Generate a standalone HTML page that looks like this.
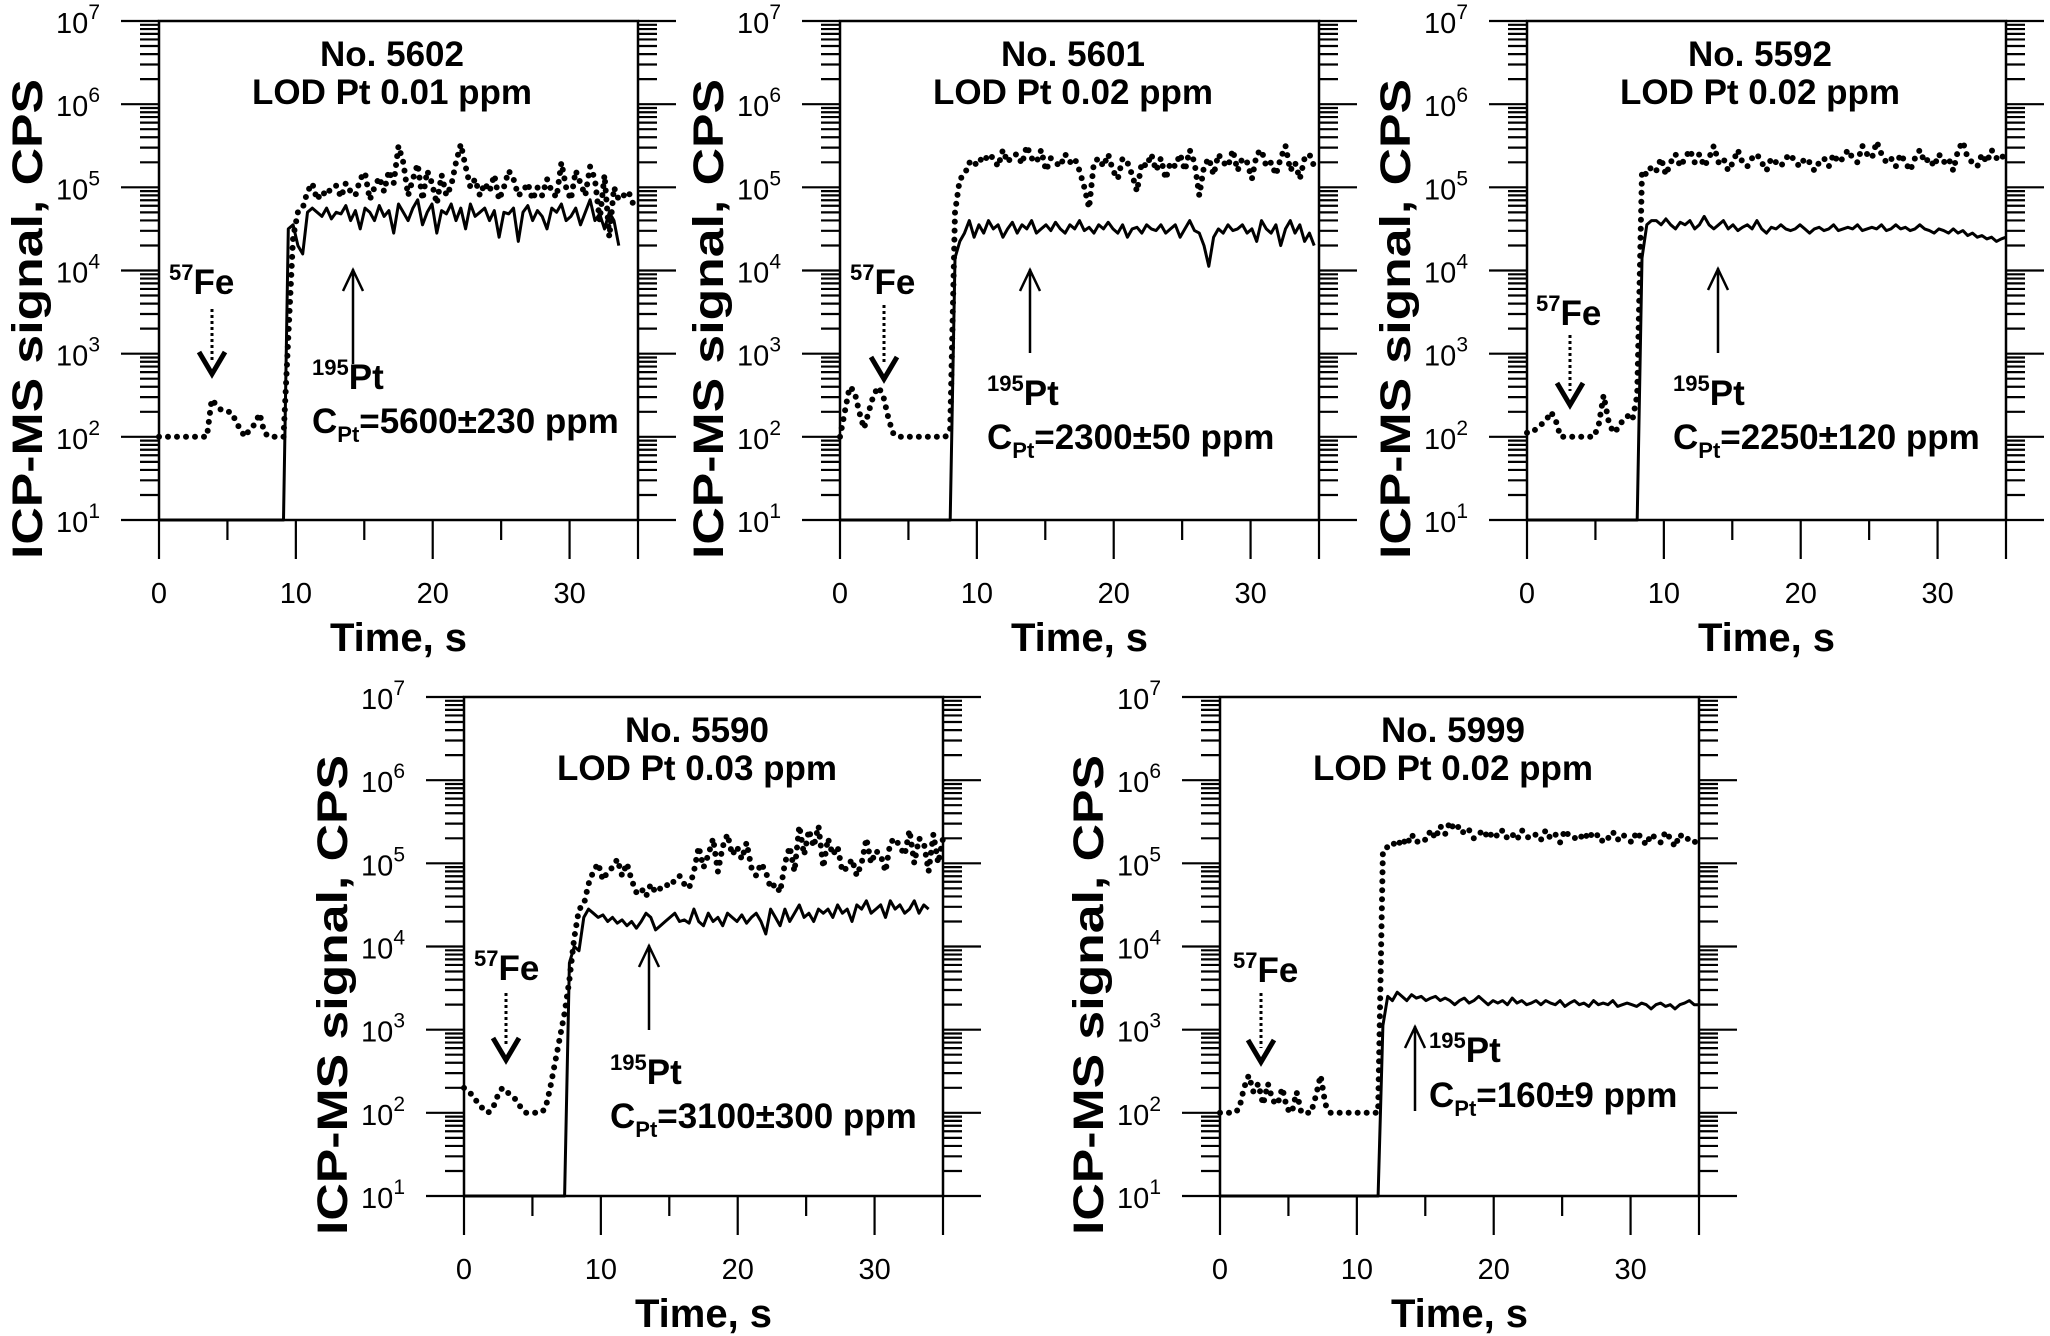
<!DOCTYPE html>
<html><head><meta charset="utf-8"><title>ICP-MS signal panels</title>
<style>
html,body{margin:0;padding:0;background:#fff;}
svg{display:block;font-family:"Liberation Sans",Arial,sans-serif;}
</style></head>
<body>
<svg id="chart" width="2050" height="1336" viewBox="0 0 2050 1336" xmlns="http://www.w3.org/2000/svg"></svg>
<script>
// ---- data ----
const xTickLabels = ["0","10","20","30"];
const xTickValues = [0,10,20,30];
const yTickExponents = [1,2,3,4,5,6,7];
const sampleStep = 0.35; // seconds between samples
const panelTitles = ["No. 5602","No. 5601","No. 5592","No. 5590","No. 5999"];
const panelLods = ["LOD Pt 0.01 ppm","LOD Pt 0.02 ppm","LOD Pt 0.02 ppm","LOD Pt 0.03 ppm","LOD Pt 0.02 ppm"];
const panelConc = ["=5600\u00B1230 ppm","=2300\u00B150 ppm","=2250\u00B1120 ppm","=3100\u00B1300 ppm","=160\u00B19 ppm"];
// log10(CPS) values, sampled every sampleStep seconds from t=0
const fe5602 = [2,2,2,2,2,2,2,2,2,2,2.0,2.45,2.38,2.32,2.3,2.3,2.2,2.08,2.0,2.1,2.15,2.28,2.05,2.0,2.0,2.0,2.0,3.2,4.4,4.7,4.75,4.95,5.05,4.85,
4.95,4.9,5.0,5.02,4.88,5.05,4.95,4.9,5.1,5.18,4.85,5.0,5.12,4.95,5.2,5.05,5.5,5.3,4.9,5.1,5.28,4.85,5.2,5.05,4.8,5.15,4.9,5.02,5.3,5.52,5.25,5.0,5.1,4.9,5.05,4.95,5.15,4.85,5.0,5.2,5.1,4.9,4.95,5.05,4.85,5.0,4.9,5.1,4.95,4.88,5.3,5.0,4.85,5.2,5.05,4.9,5.25,5.1,4.6,5.15,4.4,5.0,4.85,4.9,4.95,4.8];
const pt5602 = [1,1,1,1,1,1,1,1,1,1,1,1,1,1,1,1,1,1,1,1,1,1,1,1,1,1,1,4.5,4.55,4.3,4.2,4.7,4.75,
4.7,4.65,4.75,4.62,4.7,4.68,4.78,4.6,4.72,4.5,4.75,4.7,4.6,4.78,4.65,4.72,4.45,4.8,4.7,4.6,4.75,4.85,4.55,4.7,4.8,4.45,4.72,4.68,4.8,4.6,4.75,4.5,4.8,4.65,4.7,4.75,4.6,4.72,4.4,4.7,4.68,4.75,4.35,4.7,4.78,4.6,4.72,4.65,4.5,4.75,4.7,4.8,4.6,4.65,4.75,4.55,4.7,4.85,4.6,4.68,4.5,4.7,4.6,4.3];
const fe5601 = [2.0,2.3,2.6,2.55,2.3,2.1,2.3,2.5,2.6,2.5,2.25,2.05,2,2,2,2,2,2,2,2,2,2,2,2.1,4.7,5.1,5.15,5.3,5.25,
5.35,5.3,5.4,5.35,5.25,5.45,5.3,5.38,5.4,5.28,5.5,5.35,5.3,5.45,5.2,5.35,5.3,5.25,5.4,5.3,5.35,5.2,5.0,4.75,5.3,5.35,5.25,5.4,5.2,5.1,5.35,5.3,5.15,4.95,5.3,5.25,5.4,5.2,5.35,5.1,5.3,5.25,5.4,5.2,5.45,5.3,4.9,5.25,5.35,5.15,5.4,5.3,5.25,5.45,5.2,5.35,5.3,5.1,5.4,5.45,5.25,5.3,5.15,5.35,5.5,5.2,5.3,5.1,5.35,5.4,5.25];
const pt5601 = [1,1,1,1,1,1,1,1,1,1,1,1,1,1,1,1,1,1,1,1,1,1,1,1,4.15,4.35,4.45,4.6,4.4,
4.55,4.45,4.6,4.5,4.55,4.4,4.5,4.58,4.45,4.55,4.5,4.6,4.45,4.5,4.55,4.48,4.58,4.5,4.45,4.55,4.5,4.6,4.48,4.52,4.45,4.55,4.5,4.58,4.5,4.45,4.55,4.4,4.5,4.52,4.45,4.55,4.5,4.48,4.55,4.45,4.5,4.55,4.4,4.5,4.6,4.48,4.45,4.3,4.05,4.4,4.5,4.45,4.55,4.48,4.5,4.55,4.45,4.5,4.35,4.6,4.5,4.45,4.55,4.3,4.5,4.6,4.45,4.55,4.35,4.45,4.3];
const fe5592 = [2.05,2.05,2.1,2.15,2.2,2.3,2.2,2.0,2,2,2,2,2,2,2,2.15,2.5,2.2,2.05,2.1,2.2,2.25,2.2,2.5,5.2,5.15,5.25,
5.2,5.35,5.15,5.3,5.4,5.25,5.35,5.45,5.3,5.4,5.25,5.35,5.5,5.3,5.35,5.2,5.3,5.45,5.3,5.25,5.35,5.4,5.3,5.2,5.35,5.3,5.25,5.35,5.4,5.3,5.25,5.35,5.3,5.2,5.3,5.35,5.25,5.4,5.3,5.35,5.45,5.35,5.3,5.5,5.4,5.35,5.55,5.4,5.3,5.35,5.25,5.4,5.3,5.2,5.35,5.45,5.3,5.35,5.25,5.4,5.3,5.35,5.2,5.45,5.55,5.35,5.3,5.25,5.4,5.3,5.45,5.35,5.4,5.3];
const pt5592 = [1,1,1,1,1,1,1,1,1,1,1,1,1,1,1,1,1,1,1,1,1,1,1,1,4.15,4.55,4.6,
4.6,4.55,4.62,4.55,4.5,4.58,4.55,4.6,4.5,4.55,4.65,4.55,4.5,4.55,4.6,4.5,4.55,4.48,4.52,4.55,4.5,4.6,4.5,4.45,4.52,4.5,4.55,4.5,4.48,4.5,4.55,4.5,4.45,4.5,4.52,4.48,4.5,4.55,4.48,4.5,4.52,4.5,4.55,4.48,4.5,4.52,4.5,4.55,4.48,4.5,4.55,4.5,4.52,4.48,4.5,4.55,4.5,4.48,4.45,4.5,4.48,4.45,4.5,4.45,4.48,4.42,4.45,4.4,4.42,4.38,4.4,4.35,4.38,4.4];
const fe5590 = [2.3,2.25,2.2,2.1,2.05,2.0,2.05,2.2,2.3,2.25,2.2,2.15,2.05,2.0,2.0,2.0,2.0,2.05,2.3,2.6,2.9,3.2,3.6,4.1,4.45,4.5,4.75,4.9,
5.0,4.8,4.9,4.95,5.05,4.85,5.0,4.8,4.65,4.7,4.6,4.75,4.65,4.7,4.75,4.72,4.8,4.85,4.75,4.7,4.9,5.2,4.95,5.1,5.3,4.9,5.2,5.35,5.1,5.2,5.05,5.25,4.95,4.85,5.0,4.9,4.7,4.75,4.65,5.0,5.2,4.9,5.45,5.1,5.4,5.2,5.45,4.95,5.3,5.1,5.2,4.9,4.95,5.05,4.85,5.0,5.3,5.0,5.15,5.1,4.9,5.25,5.3,5.2,5.1,5.4,5.0,5.3,5.25,4.9,5.35,5.0,5.3];
const pt5590 = [1,1,1,1,1,1,1,1,1,1,1,1,1,1,1,1,1,1,1,1,1,1,3.8,4.0,3.95,4.35,4.45,
4.4,4.35,4.38,4.3,4.35,4.28,4.32,4.25,4.3,4.22,4.3,4.4,4.35,4.2,4.25,4.3,4.35,4.4,4.3,4.32,4.28,4.45,4.3,4.25,4.4,4.3,4.35,4.25,4.4,4.35,4.3,4.38,4.28,4.35,4.4,4.3,4.15,4.45,4.35,4.25,4.45,4.3,4.4,4.5,4.35,4.4,4.3,4.45,4.4,4.45,4.35,4.5,4.4,4.45,4.3,4.5,4.45,4.55,4.4,4.45,4.5,4.35,4.55,4.45,4.5,4.4,4.45,4.55,4.4,4.5,4.45];
const fe5999 = [2,2,2,2,2.05,2.3,2.45,2.25,2.35,2.1,2.35,2.15,2.1,2.3,2.05,2.0,2.25,2.0,2.0,2.0,2.2,2.45,2.1,2,2,2,2,2,2,2,2,2,2,2,5.15,5.2,
5.25,5.2,5.3,5.22,5.35,5.25,5.3,5.28,5.4,5.3,5.45,5.35,5.5,5.4,5.45,5.35,5.4,5.3,5.35,5.4,5.3,5.38,5.32,5.4,5.3,5.35,5.28,5.4,5.32,5.3,5.35,5.28,5.4,5.3,5.35,5.25,5.4,5.32,5.3,5.35,5.28,5.38,5.3,5.35,5.25,5.3,5.38,5.28,5.35,5.3,5.25,5.38,5.3,5.22,5.35,5.3,5.25,5.38,5.3,5.2,5.35,5.28,5.3,5.25,5.3];
const pt5999 = [1,1,1,1,1,1,1,1,1,1,1,1,1,1,1,1,1,1,1,1,1,1,1,1,1,1,1,1,1,1,1,1,1,1,3.05,3.4,3.35,3.45,
3.4,3.35,3.42,3.38,3.4,3.35,3.38,3.4,3.35,3.38,3.35,3.3,3.35,3.38,3.32,3.35,3.4,3.35,3.3,3.35,3.32,3.35,3.3,3.38,3.32,3.35,3.3,3.32,3.35,3.3,3.35,3.32,3.3,3.35,3.28,3.32,3.35,3.3,3.32,3.28,3.35,3.3,3.32,3.3,3.35,3.28,3.3,3.32,3.3,3.28,3.32,3.3,3.25,3.3,3.32,3.28,3.3,3.25,3.3,3.32,3.35,3.3,3.3];
const feSeries = [fe5602, fe5601, fe5592, fe5590, fe5999];
const ptSeries = [pt5602, pt5601, pt5592, pt5590, pt5999];

// ---- layout (pixels, not data) ----
const W = 479, H = 499, XMAX = 35, YMIN = 1, YMAX = 7;
const layout = [
  {L:159, T:21, feLab:[169,294], feArr:[212,309,374], ptArr:[353,364,269], ptLab:[312,389], cLab:[312,433]},
  {L:840, T:21, feLab:[850,294], feArr:[884,305,379], ptArr:[1030,353,269], ptLab:[987,405], cLab:[987,449]},
  {L:1527,T:21, feLab:[1536,325], feArr:[1570,335,405], ptArr:[1718,353,268], ptLab:[1673,405], cLab:[1673,449]},
  {L:464, T:697, feLab:[474,980], feArr:[506,993,1060], ptArr:[649,1030,945], ptLab:[610,1084], cLab:[610,1128]},
  {L:1220,T:697, feLab:[1233,982], feArr:[1261,993,1062], ptArr:[1415,1111,1026], ptLab:[1429,1062], cLab:[1429,1107]}
];
const NS = "http://www.w3.org/2000/svg";
const svg = document.getElementById("chart");
function mk(tag, attrs, parent){
  const e = document.createElementNS(NS, tag);
  for (const k in attrs) e.setAttribute(k, attrs[k]);
  (parent||svg).appendChild(e);
  return e;
}
layout.forEach((P, i) => {
  const g = mk("g", {});
  
  
  const xs = t => P.L + t / XMAX * W;
  const ys = lv => P.T + (YMAX - lv) / (YMAX - YMIN) * H;
  const B = P.T + H, R = P.L + W;
  const frame = mk("rect", {x:P.L, y:P.T, width:W, height:H, fill:"none", stroke:"#000", "stroke-width":2.5}, g);
  
  
  let d = "";
  yTickExponents.forEach(e => {
    const y = ys(e);
    d += `M${P.L-38},${y}H${P.L}M${R},${y}H${R+38}`;
    if (e < YMAX) for (let m = 2; m <= 9; m++) {
      const ym = ys(e + Math.log10(m));
      d += `M${P.L-19},${ym}H${P.L}M${R},${ym}H${R+19}`;
    }
  });
  [0,10,20,30,35].forEach(t => { d += `M${xs(t)},${B}V${B+39}`; });
  [5,15,25].forEach(t => { d += `M${xs(t)},${B}V${B+20}`; });
  const ticks = mk("path", {d, stroke:"#000", "stroke-width":2.2, fill:"none"}, g);
  
  
  yTickExponents.forEach(e => {
    const tx = mk("text", {x:P.L-59, y:ys(e)+12, "text-anchor":"end", "font-size":29, fill:"#000"}, g);
    
    
    tx.appendChild(document.createTextNode("10"));
    const s = mk("tspan", {dy:-14, "font-size":21}, tx);
    s.textContent = String(e);
  });
  xTickValues.forEach((t, k) => {
    const tx = mk("text", {x:xs(t), y:B+83, "text-anchor":"middle", "font-size":29, fill:"#000"}, g);
    
    
    tx.textContent = xTickLabels[k];
  });
  const xt = mk("text", {x:P.L+W/2, y:B+131, "text-anchor":"middle", "font-size":40, "font-weight":"bold"}, g);
  
  
  xt.textContent = "Time, s";
  const yc = P.T + 298;
  const yt = mk("text", {x:0, y:0, transform:`translate(${P.L-117},${yc}) rotate(-90)`, "text-anchor":"middle", "font-size":43, "font-weight":"bold", textLength:480, lengthAdjust:"spacingAndGlyphs"}, g);
  
  
  yt.textContent = "ICP-MS signal, CPS";
  function pathFor(arr){
    let p = "";
    arr.forEach((v, k) => {
      const t = k * sampleStep;
      if (t > XMAX) return;
      p += (k ? "L" : "M") + xs(t).toFixed(1) + "," + ys(v).toFixed(1);
    });
    return p;
  }
  const pt = mk("path", {d:pathFor(ptSeries[i]), fill:"none", stroke:"#000", "stroke-width":3, "stroke-linejoin":"round"}, g);
  
  
  const fe = mk("path", {d:pathFor(feSeries[i]), fill:"none", stroke:"#000", "stroke-width":6, "stroke-linecap":"round", "stroke-dasharray":"0 9"}, g);
  
  
  const t1 = mk("text", {x:P.L+233, y:P.T+45, "text-anchor":"middle", "font-size":35, "font-weight":"bold"}, g);
  
  
  t1.textContent = panelTitles[i];
  const t2 = mk("text", {x:P.L+233, y:P.T+83, "text-anchor":"middle", "font-size":35, "font-weight":"bold"}, g);
  
  
  t2.textContent = panelLods[i];
  const fl = mk("text", {x:P.feLab[0], y:P.feLab[1], "font-size":35, "font-weight":"bold"}, g);
  
  
  const fs = mk("tspan", {"font-size":22, dy:-14}, fl); fs.textContent = "57";
  const fm = mk("tspan", {dy:14}, fl); fm.textContent = "Fe";
  const [fx, fy1, fy2] = P.feArr;
  const fa = mk("path", {d:`M${fx},${fy1}V${fy2-14}`, stroke:"#000", "stroke-width":3, "stroke-dasharray":"3 3", fill:"none"}, g);
  
  
  const fh = mk("path", {d:`M${fx-13},${fy2-22}L${fx},${fy2}L${fx+13},${fy2-22}`, stroke:"#000", "stroke-width":5, fill:"none"}, g);
  
  
  const [px, py1, py2] = P.ptArr;
  const pa = mk("path", {d:`M${px},${py1}V${py2}M${px-10},${py2+22}L${px},${py2+1}L${px+10},${py2+22}`, stroke:"#000", "stroke-width":2.5, fill:"none"}, g);
  
  
  const pl = mk("text", {x:P.ptLab[0], y:P.ptLab[1], "font-size":35, "font-weight":"bold"}, g);
  
  
  const ps = mk("tspan", {"font-size":22, dy:-14}, pl); ps.textContent = "195";
  const pm = mk("tspan", {dy:14}, pl); pm.textContent = "Pt";
  const cl = mk("text", {x:P.cLab[0], y:P.cLab[1], "font-size":35, "font-weight":"bold"}, g);
  
  
  const c1 = mk("tspan", {}, cl); c1.textContent = "C";
  const c2 = mk("tspan", {"font-size":22, dy:9}, cl); c2.textContent = "Pt";
  const c3 = mk("tspan", {dy:-9}, cl); c3.textContent = panelConc[i];
});
</script>
</body></html>
